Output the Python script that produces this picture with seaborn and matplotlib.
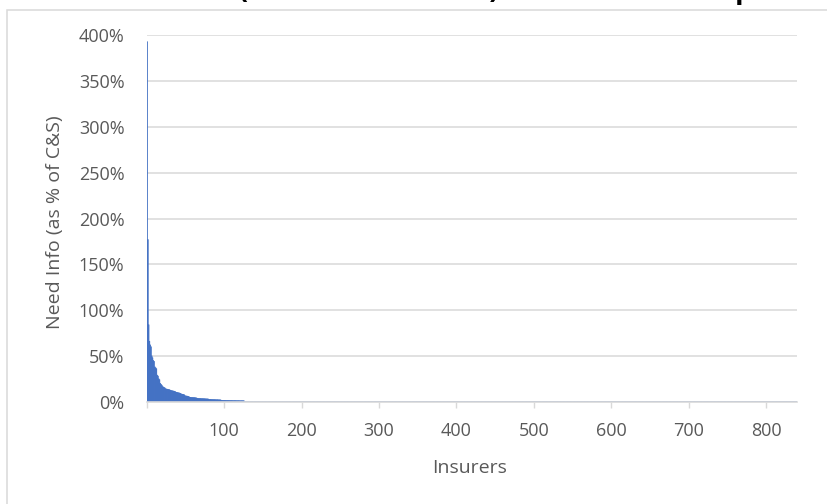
import numpy as np
import pandas as pd
import matplotlib
matplotlib.use("Agg")
import matplotlib.pyplot as plt
from matplotlib.patches import Rectangle
from matplotlib.ticker import FixedLocator, FuncFormatter
import seaborn as sns

# ---- data (Need Info as % of C&S, insurers sorted descending) ----
n_insurers = 840
head_values = [
    393, 177, 84, 66, 62, 60, 50, 48, 45, 44,
    38, 37, 36, 29, 28, 25, 24, 20, 19, 18,
    16.5, 16, 15.5, 15, 14, 13.8, 13.6, 13.4, 13.2, 13,
    12.5, 12.2, 12, 11.8, 11.6, 11.4, 11.2, 10.5, 10.2, 10,
    9.8, 9.6, 9.4, 9, 8.5, 8.2, 8, 7.8, 7.5, 6.5,
    6.3, 6.1, 6, 5.8, 5.5, 4.8, 4.7, 4.6, 4.5, 4.5,
    4.4, 4.4, 4.3, 4.2, 4.0, 3.6, 3.5, 3.5, 3.4, 3.4,
    3.3, 3.3, 3.3, 3.2, 3.2, 3.1, 3.1, 3.0, 3.0, 2.9,
    2.5, 2.4, 2.4, 2.3, 2.3, 2.3, 2.2, 2.2, 2.2, 2.1,
    2.1, 2.1, 2.0, 2.0, 2.0, 1.9, 1.4, 1.4, 1.35, 1.3,
    1.3, 1.3, 1.25, 1.25, 1.2, 1.2, 1.2, 1.2, 1.15, 1.15,
    1.15, 1.1, 1.1, 1.1, 1.1, 1.1, 1.05, 1.05, 1.05, 1.05,
    1.0, 1.0, 1.0, 1.0, 1.0, 1.0,
]
tail_values = [0.0] * (n_insurers - len(head_values))
need_info = head_values + tail_values
insurers = list(range(1, n_insurers + 1))

y_ticks = [0, 50, 100, 150, 200, 250, 300, 350, 400]
x_ticks = [100, 200, 300, 400, 500, 600, 700, 800]

title_text = "Need Info (as % of Total C&S) Ranked Desc: Top 125"
x_title = "Insurers"
y_title = "Need Info (as % of C&S)"

# ---- styling ----
sns.set_theme(style="white")
plt.rcParams["font.family"] = ["Open Sans", "DejaVu Sans"]

bar_color = "#4472C4"
grid_color = "#D9D9D9"
text_color = "#595959"

W, H = 828, 504
fig = plt.figure(figsize=(W / 100, H / 100), dpi=100)
left, right, top, bottom = 146.7, 797.0, 35.3, 401.7
ax = fig.add_axes([left / W, 1 - bottom / H, (right - left) / W, (bottom - top) / H])

df = pd.DataFrame({"insurer": insurers, "need": need_info})
df["pos"] = df["insurer"] - 0.5

sns.barplot(data=df, x="pos", y="need", native_scale=True, width=1,
            color=bar_color, saturation=1, errorbar=None,
            edgecolor=bar_color, linewidth=0.5, snap=False,
            ax=ax, zorder=3)

ax.set_xlim(0, n_insurers)
ax.set_ylim(0, 400)

ax.yaxis.set_major_locator(FixedLocator(y_ticks))
ax.yaxis.set_major_formatter(FuncFormatter(lambda v, p: f"{int(v)}%"))
ax.xaxis.set_major_locator(FixedLocator([0] + x_ticks))
ax.xaxis.set_major_formatter(FuncFormatter(lambda v, p: "" if v == 0 else f"{int(v)}"))

ax.grid(axis="y", color=grid_color, linewidth=1.1, zorder=0)
ax.grid(axis="x", visible=False)
ax.set_axisbelow(True)

for s in ["top", "right", "left"]:
    ax.spines[s].set_visible(False)
ax.spines["bottom"].set_color(grid_color)
ax.spines["bottom"].set_linewidth(1.2)
ax.spines["bottom"].set_zorder(4)

ax.tick_params(axis="y", length=0, pad=16, labelsize=13, labelcolor=text_color)
ax.tick_params(axis="x", length=4.5, width=1.0, color=grid_color, direction="out",
               pad=10, labelsize=13, labelcolor=text_color, bottom=True)

ax.set_xlabel(x_title, fontsize=14, color=text_color)
ax.set_ylabel(y_title, fontsize=14, color=text_color)
ax.xaxis.set_label_coords((470 - left) / (right - left), (bottom - 468) / (bottom - top))
ax.xaxis.label.set_va("center")
ax.yaxis.set_label_coords((55 - left) / (right - left), 0.49)
ax.yaxis.label.set_va("center")

# outer chart border (clipped at right/bottom like the reference)
fig.add_artist(Rectangle((7 / W, -0.1), 1.0, (H - 10) / H + 0.1,
                         transform=fig.transFigure, fill=False,
                         edgecolor=grid_color, linewidth=1.1))

# chart title, mostly cut off above the image (as in the reference)
fig.text(92 / W, 1.0 + 2 / H, title_text, fontsize=20.5, fontweight="bold",
         color="black", ha="left", va="baseline")

fig.savefig("out.png", dpi=100, facecolor="white")
